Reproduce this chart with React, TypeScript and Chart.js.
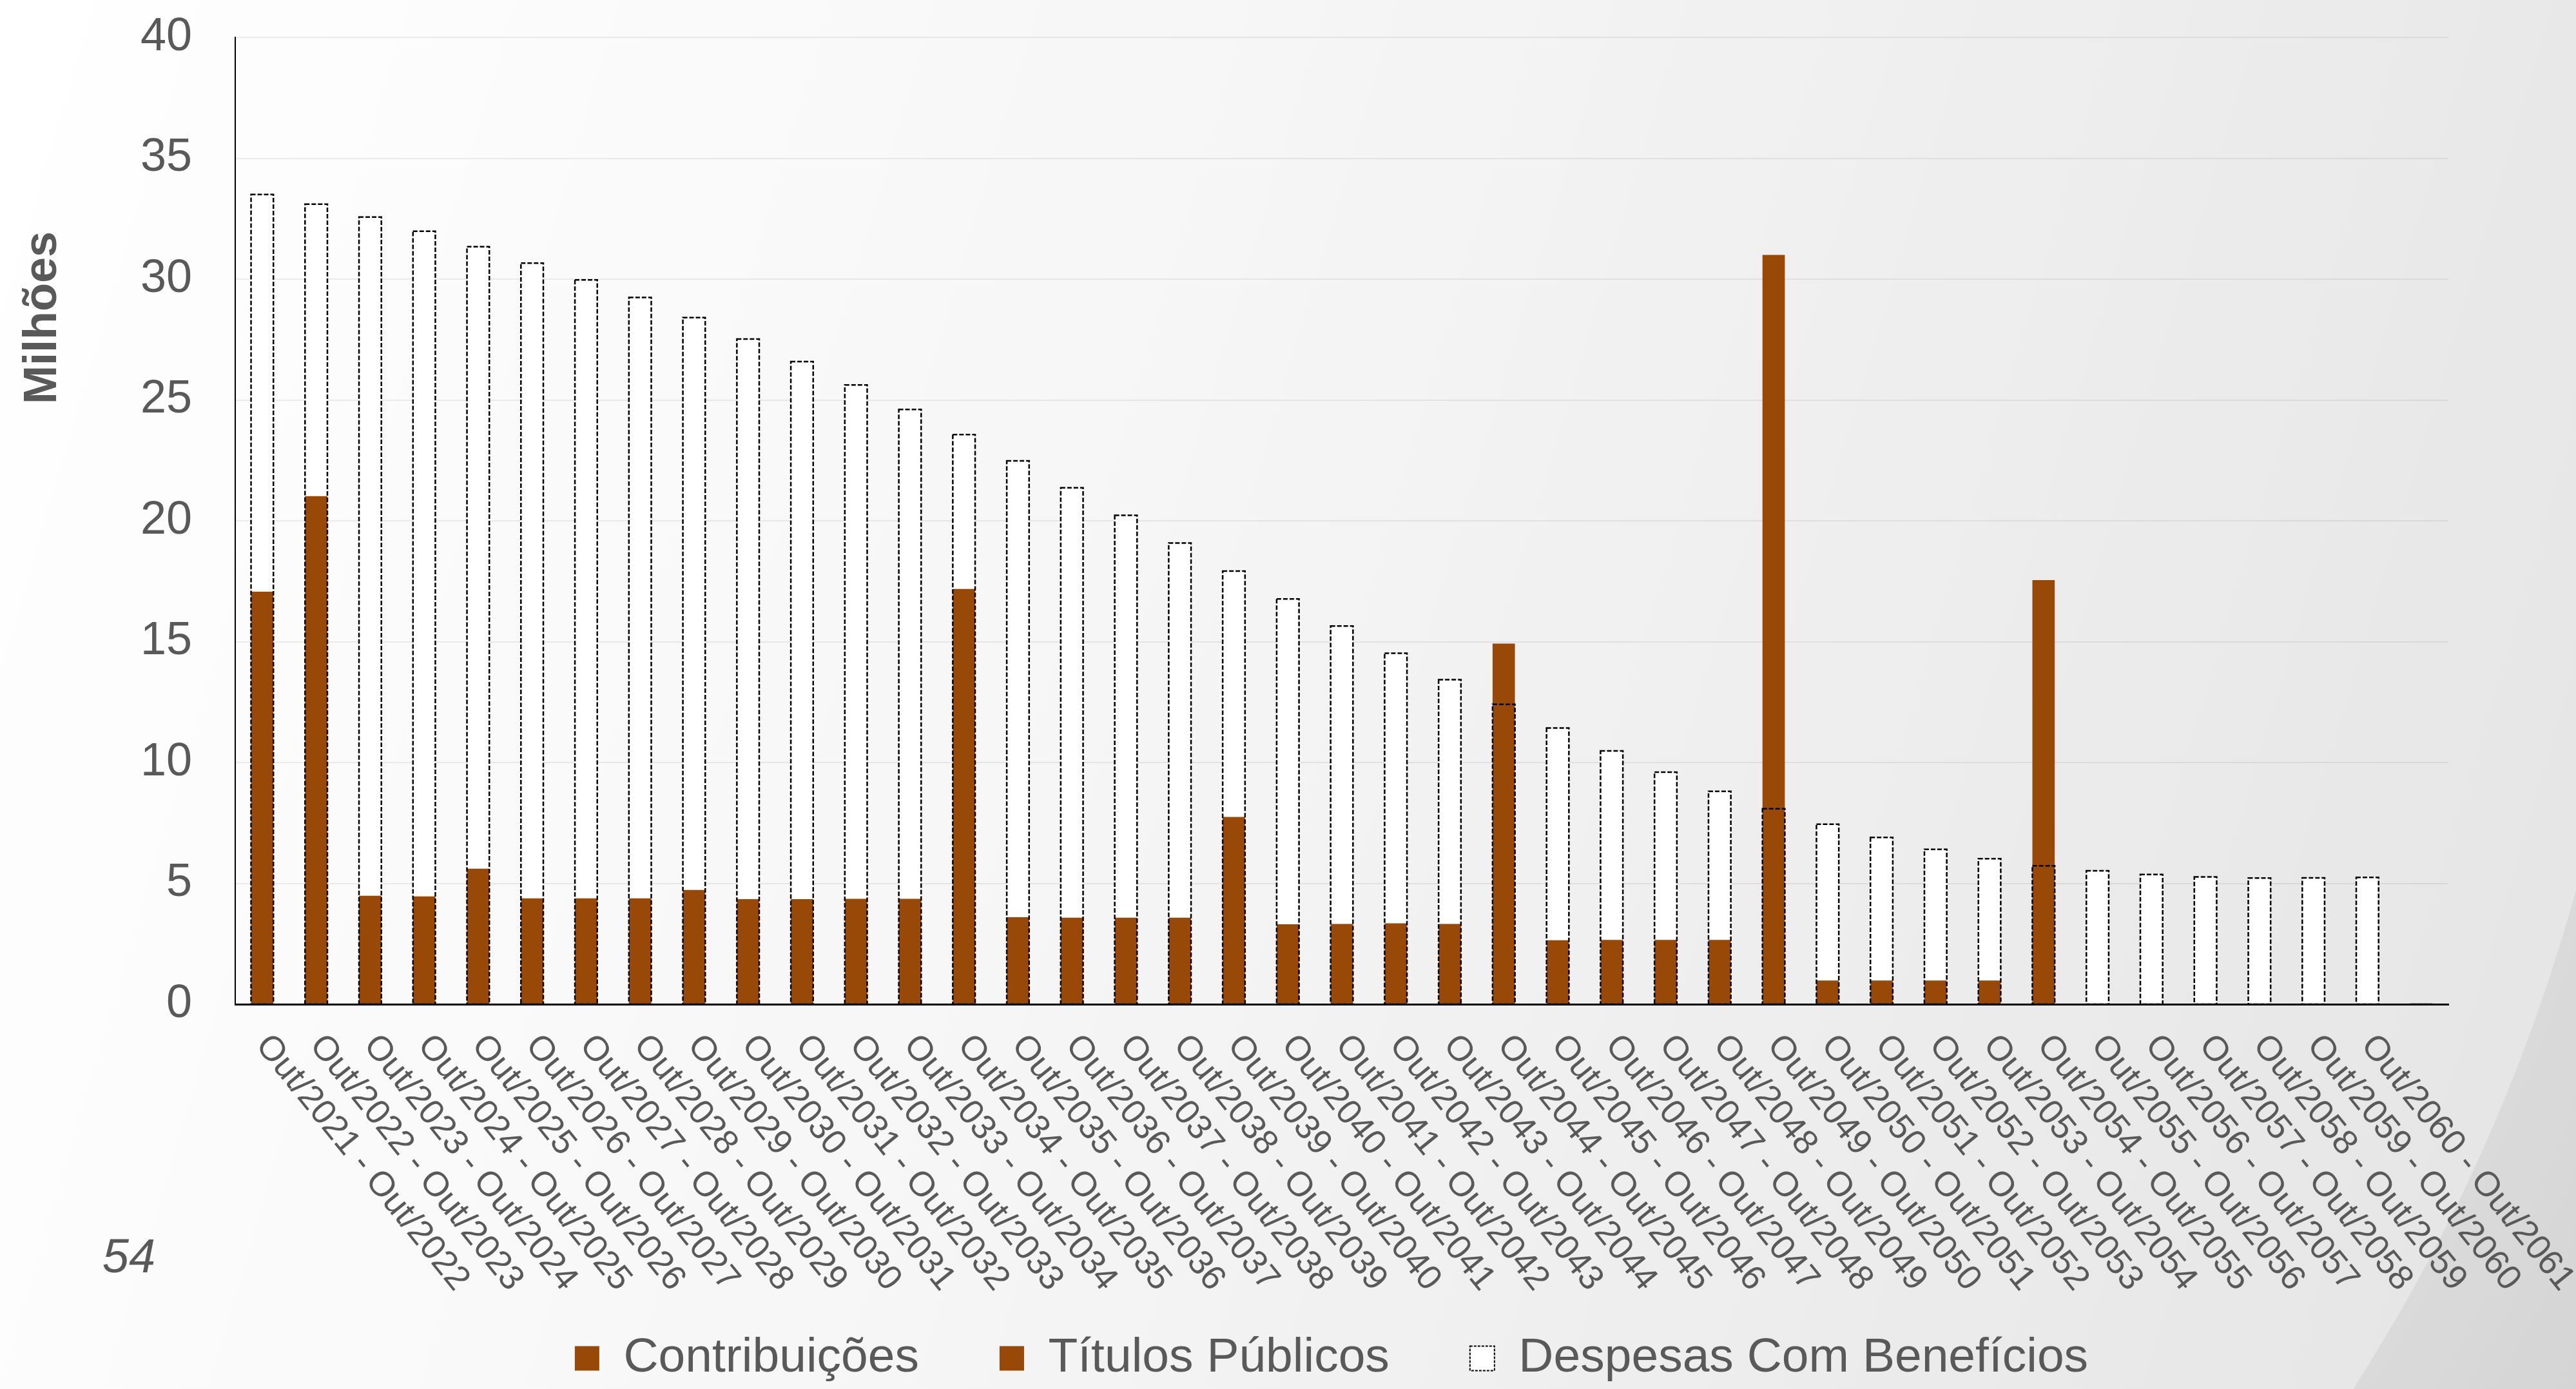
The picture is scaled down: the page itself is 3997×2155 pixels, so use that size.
import React, { useEffect, useRef } from 'react';
import { Chart, registerables } from 'chart.js';

Chart.register(...registerables);

// ---------- data ----------
const categories = [
  'Out/2021 - Out/2022', 'Out/2022 - Out/2023', 'Out/2023 - Out/2024', 'Out/2024 - Out/2025',
  'Out/2025 - Out/2026', 'Out/2026 - Out/2027', 'Out/2027 - Out/2028', 'Out/2028 - Out/2029',
  'Out/2029 - Out/2030', 'Out/2030 - Out/2031', 'Out/2031 - Out/2032', 'Out/2032 - Out/2033',
  'Out/2033 - Out/2034', 'Out/2034 - Out/2035', 'Out/2035 - Out/2036', 'Out/2036 - Out/2037',
  'Out/2037 - Out/2038', 'Out/2038 - Out/2039', 'Out/2039 - Out/2040', 'Out/2040 - Out/2041',
  'Out/2041 - Out/2042', 'Out/2042 - Out/2043', 'Out/2043 - Out/2044', 'Out/2044 - Out/2045',
  'Out/2045 - Out/2046', 'Out/2046 - Out/2047', 'Out/2047 - Out/2048', 'Out/2048 - Out/2049',
  'Out/2049 - Out/2050', 'Out/2050 - Out/2051', 'Out/2051 - Out/2052', 'Out/2052 - Out/2053',
  'Out/2053 - Out/2054', 'Out/2054 - Out/2055', 'Out/2055 - Out/2056', 'Out/2056 - Out/2057',
  'Out/2057 - Out/2058', 'Out/2058 - Out/2059', 'Out/2059 - Out/2060', 'Out/2060 - Out/2061',
  '',
];

const contribuicoes = [
  0, 0, 0, 0, 0, 0, 0, 0, 0, 0, 0, 0, 0, 0, 0, 0, 0, 0, 0, 0,
  0, 0, 0, 0, 0, 0, 0, 0, 0, 0, 0, 0, 0, 0, 0, 0, 0, 0, 0, 0, null,
];

const titulosPublicos = [
  17.07, 21.02, 4.49, 4.46, 5.61, 4.38, 4.38, 4.38, 4.73, 4.35,
  4.35, 4.36, 4.36, 17.18, 3.6, 3.58, 3.58, 3.58, 7.75, 3.31,
  3.32, 3.35, 3.32, 14.92, 2.65, 2.66, 2.66, 2.66, 31.0, 0.98,
  0.98, 0.98, 0.98, 17.55, 0, 0, 0, 0, 0, 0, null,
];

const despesasComBeneficios = [
  33.5, 33.1, 32.57, 31.98, 31.34, 30.66, 29.97, 29.24, 28.41, 27.52,
  26.59, 25.62, 24.61, 23.57, 22.48, 21.37, 20.23, 19.08, 17.92, 16.77,
  15.65, 14.52, 13.43, 12.41, 11.43, 10.48, 9.6, 8.81, 8.09, 7.45,
  6.9, 6.41, 6.02, 5.73, 5.52, 5.37, 5.27, 5.22, 5.23, 5.25, null,
];

const yMin = 0;
const yMax = 40;
const yStep = 5;

const seriesNames = ['Contribuições', 'Títulos Públicos', 'Despesas Com Benefícios'];
const axisTitle = 'Milhões';
const pageNumber = '54';

// ---------- styles ----------
const FONT = '"Liberation Sans", Arial, Helvetica, sans-serif';
const TEXT = '#595959';
const BROWN = '#984807';
const W = 3997;
const H = 2155;

const backgroundPlugin = {
  id: 'pageBackground',
  beforeDraw(chart: any) {
    const { ctx, width, height } = chart;
    ctx.save();
    const g = ctx.createLinearGradient(0, 0, width, height * 0.55);
    g.addColorStop(0, '#ffffff');
    g.addColorStop(0.45, '#f6f6f6');
    g.addColorStop(1, '#e6e6e7');
    ctx.fillStyle = g;
    ctx.fillRect(0, 0, width, height);
    // page curl in the bottom-right corner
    const cx = 1297, cy = 639, r = 2800;
    ctx.beginPath();
    ctx.rect(0, 0, width, height);
    ctx.arc(cx, cy, r, 0, Math.PI * 2, true);
    const rg = ctx.createRadialGradient(cx, cy, r, cx, cy, r + 600);
    rg.addColorStop(0, '#dadada');
    rg.addColorStop(1, '#cfcfcf');
    ctx.fillStyle = rg;
    ctx.fill('evenodd');
    ctx.restore();
  },
};

const legendShiftPlugin = {
  id: 'legendShift',
  afterLayout(chart: any) {
    const lg = chart.legend;
    if (lg) {
      lg.left -= 16;
      lg.right -= 16;
    }
  },
};

const dashedOutlinePlugin = {
  id: 'dashedOutline',
  afterDatasetsDraw(chart: any) {
    const idx = chart.data.datasets.findIndex((d: any) => d.label === seriesNames[2]);
    if (idx < 0) return;
    const meta = chart.getDatasetMeta(idx);
    const { ctx } = chart;
    ctx.save();
    ctx.setLineDash([7, 3]);
    ctx.lineWidth = 2.5;
    ctx.strokeStyle = '#000000';
    meta.data.forEach((el: any) => {
      const { x, y, base, width } = el.getProps(['x', 'y', 'base', 'width'], true);
      if (y == null || isNaN(y) || isNaN(base)) return;
      ctx.strokeRect(x - width / 2, y, width, base - y);
    });
    ctx.restore();
  },
};

const textPlugin = {
  id: 'extraText',
  afterDraw(chart: any) {
    const { ctx } = chart;
    const xs = chart.scales.x;
    ctx.save();
    // rotated category labels
    ctx.font = `54px ${FONT}`;
    ctx.fillStyle = TEXT;
    ctx.textAlign = 'left';
    ctx.textBaseline = 'middle';
    categories.forEach((lab, i) => {
      if (!lab) return;
      const px = xs.getPixelForValue(i);
      ctx.save();
      ctx.translate(px, xs.top + 55);
      ctx.rotate((51 * Math.PI) / 180);
      ctx.fillText(lab, 0, 0);
      ctx.restore();
    });
    // y axis title
    ctx.font = `bold 72px ${FONT}`;
    ctx.textAlign = 'center';
    ctx.save();
    ctx.translate(67, 493);
    ctx.rotate(-Math.PI / 2);
    ctx.fillText(axisTitle, 0, 0);
    ctx.restore();
    // page number
    ctx.font = `italic 74px ${FONT}`;
    ctx.textAlign = 'center';
    ctx.fillText(pageNumber, 200, 1953);
    ctx.restore();
  },
};

export default function App() {
  const ref = useRef<HTMLCanvasElement>(null);

  useEffect(() => {
    document.body.style.margin = '0';
    document.body.style.overflow = 'hidden';
    Chart.defaults.font.family = FONT;

    const chart = new Chart(ref.current as HTMLCanvasElement, {
      type: 'bar',
      data: {
        labels: categories,
        datasets: [
          {
            label: seriesNames[0],
            data: contribuicoes,
            backgroundColor: BROWN,
            borderWidth: 0,
            yAxisID: 'y',
            stack: 'all',
            order: 0,
          },
          {
            label: seriesNames[1],
            data: titulosPublicos,
            backgroundColor: BROWN,
            borderWidth: 0,
            yAxisID: 'y',
            stack: 'all',
            order: 1,
          },
          {
            label: seriesNames[2],
            data: despesasComBeneficios,
            backgroundColor: '#ffffff',
            borderWidth: 0,
            yAxisID: 'y1',
            stack: 'all',
            order: 2,
          },
        ] as any,
      },
      options: {
        animation: false,
        responsive: false,
        devicePixelRatio: 1,
        events: [],
        datasets: {
          bar: { barPercentage: 0.414, categoryPercentage: 1 },
        } as any,
        layout: { padding: { left: 0, right: 198, top: 58, bottom: 0 } },
        scales: {
          x: {
            stacked: true,
            grid: { display: false },
            border: { display: true, color: '#000000', width: 3, z: 1 } as any,
            ticks: { display: false },
            afterFit: (s: any) => {
              s.height = 387;
            },
          },
          y: {
            stacked: true,
            min: yMin,
            max: yMax,
            position: 'left',
            ticks: {
              stepSize: yStep,
              padding: 0,
              color: TEXT,
              font: { size: 72, family: FONT },
            },
            grid: {
              color: 'rgba(0,0,0,0.065)',
              lineWidth: 2,
              drawTicks: true,
              tickLength: 67,
              tickColor: 'rgba(0,0,0,0)',
            },
            border: { display: true, color: '#000000', width: 2 },
            afterFit: (s: any) => {
              s.width = 365;
            },
          },
          y1: {
            display: false,
            stacked: false,
            min: yMin,
            max: yMax,
            position: 'left',
          },
        } as any,
        plugins: {
          tooltip: { enabled: false },
          title: { display: false },
          legend: {
            display: true,
            position: 'bottom',
            fullSize: false,
            labels: {
              color: TEXT,
              font: { size: 75, family: FONT },
              boxWidth: 38,
              boxHeight: 38,
              padding: 125,
              generateLabels: (c: any) => {
                const items = (Chart.defaults.plugins.legend.labels as any).generateLabels(c);
                return items.map((it: any) => {
                  if (it.text === seriesNames[2]) {
                    return { ...it, fillStyle: '#ffffff', strokeStyle: '#000000', lineWidth: 2, lineDash: [4, 2] };
                  }
                  return { ...it, lineWidth: 0 };
                });
              },
            },
          } as any,
        },
      },
      plugins: [backgroundPlugin, legendShiftPlugin, dashedOutlinePlugin, textPlugin],
    });

    return () => chart.destroy();
  }, []);

  return (
    <canvas
      ref={ref}
      width={W}
      height={H}
      style={{ display: 'block', width: W, height: H }}
    />
  );
}
